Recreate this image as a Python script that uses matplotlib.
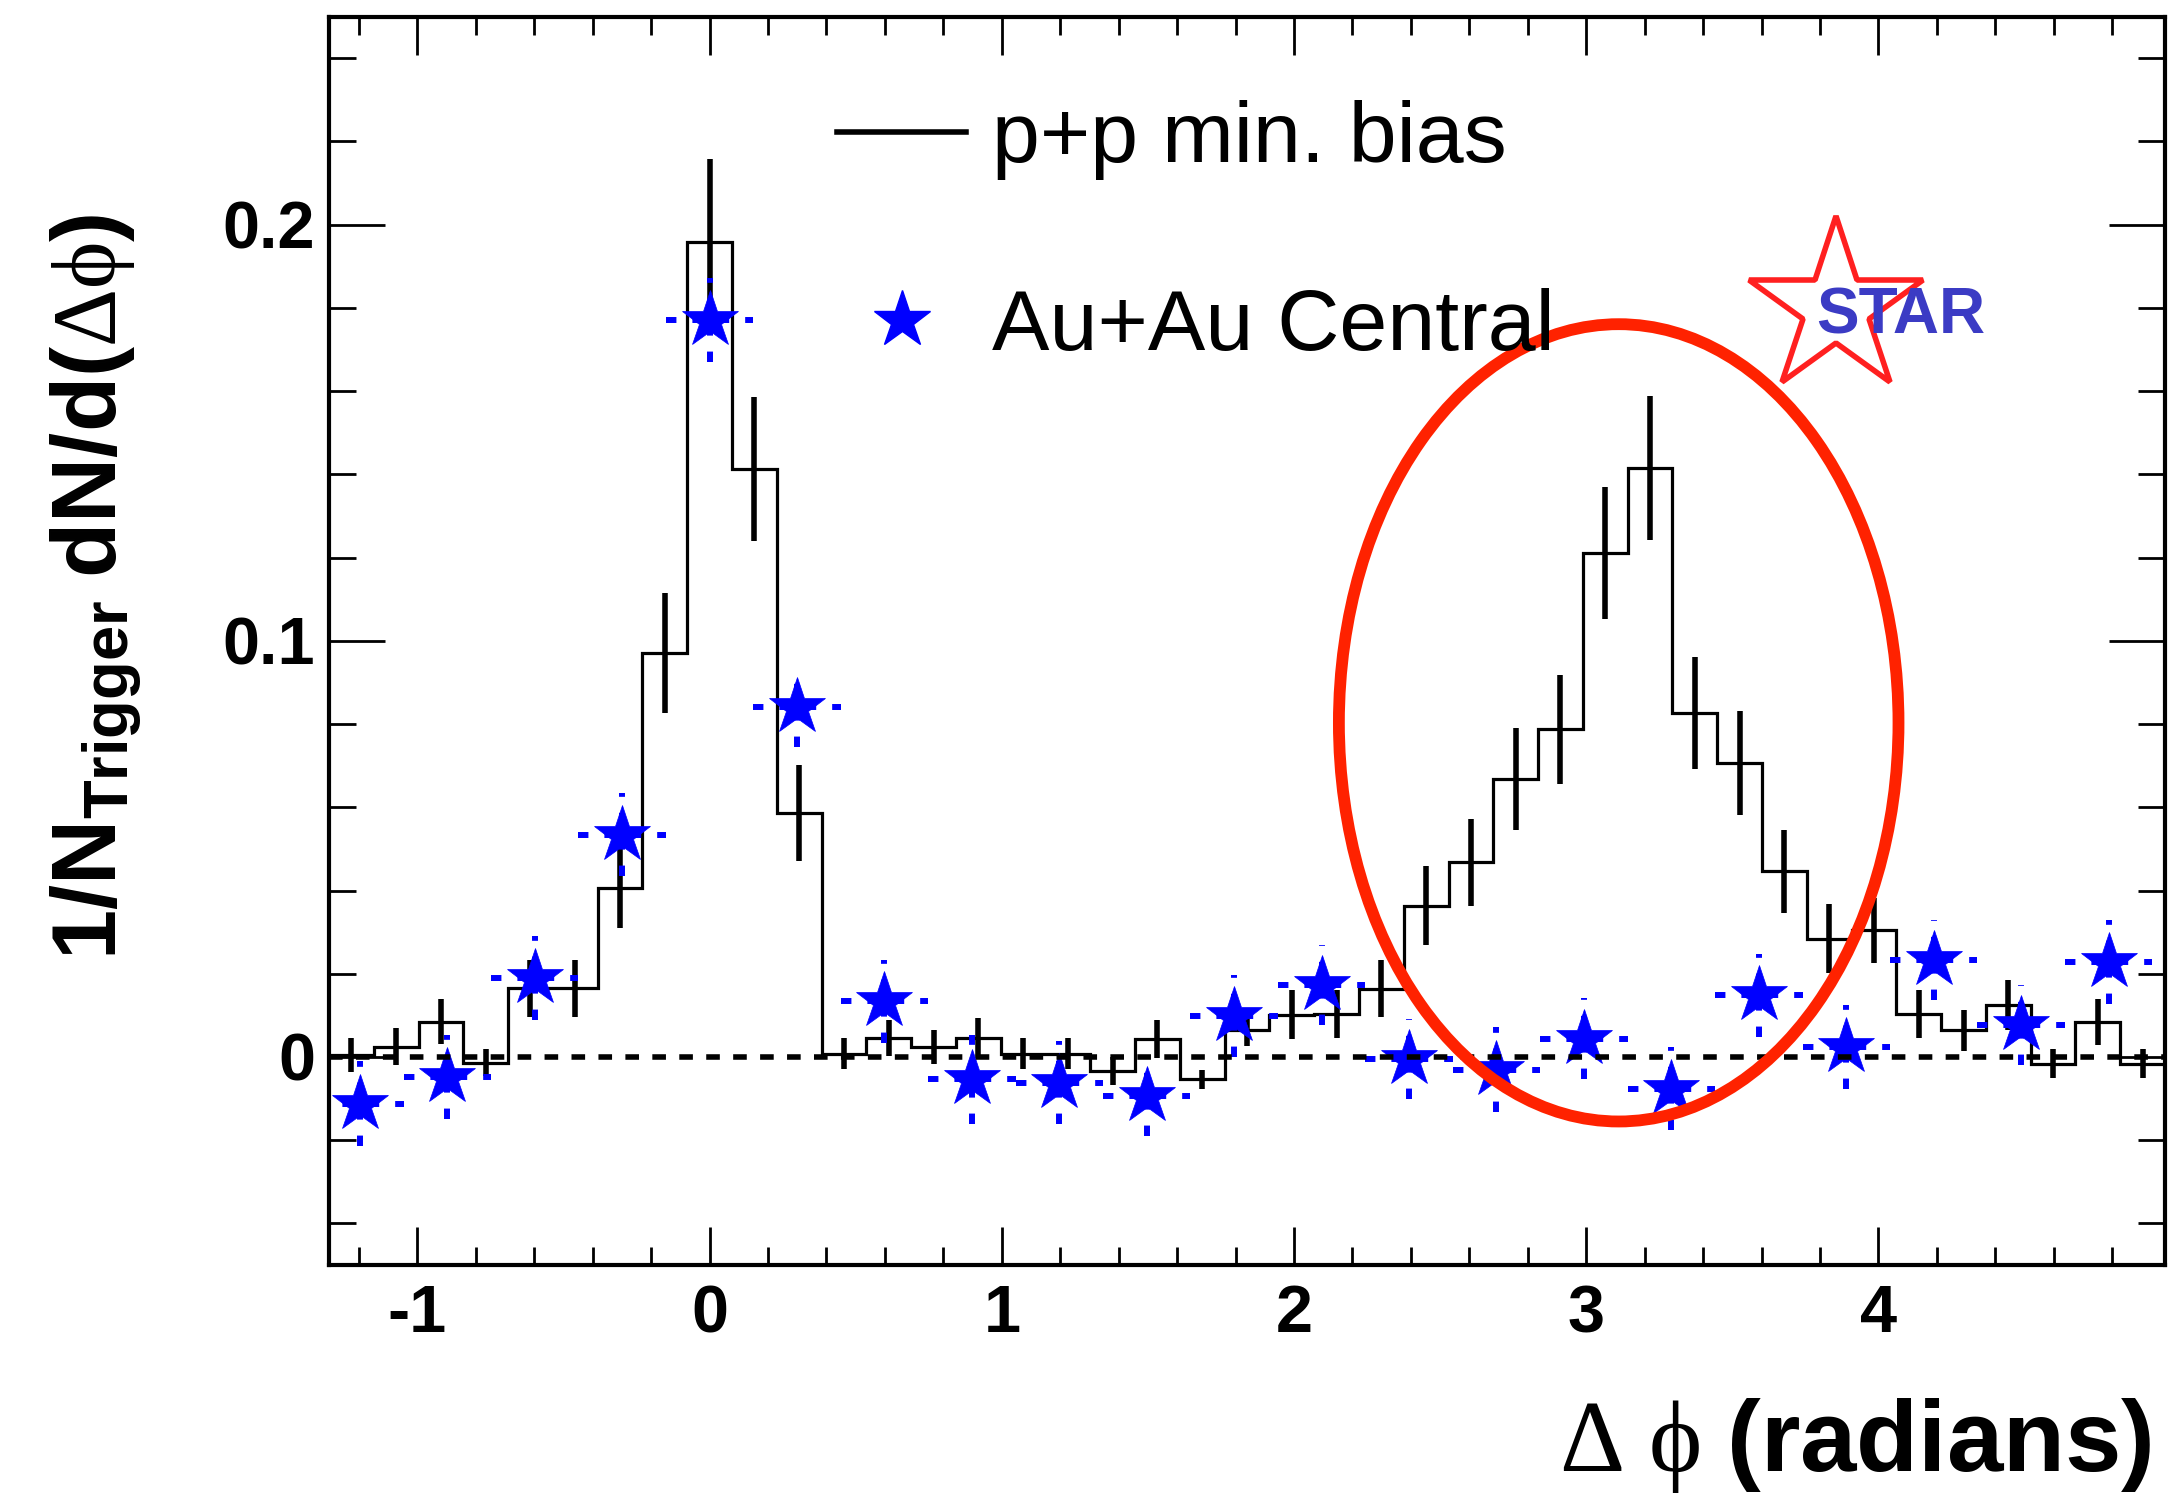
import numpy as np
import matplotlib
matplotlib.use('Agg')
import matplotlib.pyplot as plt
from matplotlib.patches import Ellipse
from matplotlib.lines import Line2D
from matplotlib.ticker import MultipleLocator

plt.rcParams['font.family'] = ['Liberation Sans', 'DejaVu Sans']
plt.rcParams['mathtext.fontset'] = 'custom'
plt.rcParams['mathtext.rm'] = 'Liberation Serif'
plt.rcParams['mathtext.it'] = 'Liberation Serif:italic'
plt.rcParams['mathtext.bf'] = 'Liberation Sans:bold'
plt.rcParams['axes.unicode_minus'] = False
plt.rcParams['lines.scale_dashes'] = False

# p+p min. bias histogram (41 bins over 2pi, first bin centred at -8 bins)
pp_bin = 2 * np.pi / 41
pp_first = -8
pp_vals = [0.0005, 0.0025, 0.0085, -0.0014, 0.0165, 0.0165, 0.0407, 0.0970,
           0.1958, 0.1413, 0.0587, 0.0008, 0.0046, 0.0024, 0.0046, 0.0008,
           0.0008, -0.0034, 0.0044, -0.0054, 0.0066, 0.0102, 0.0104, 0.0164,
           0.0364, 0.0468, 0.0668, 0.0787, 0.1211, 0.1415, 0.0826, 0.0707,
           0.0446, 0.0284, 0.0304, 0.0104, 0.0064, 0.0124, -0.0016, 0.0084,
           -0.0016]
pp_err = [0.0040, 0.0044, 0.0055, 0.0032, 0.0069, 0.0069, 0.0096, 0.0144,
          0.0199, 0.0174, 0.0115, 0.0038, 0.0044, 0.0040, 0.0048, 0.0038,
          0.0038, 0.0034, 0.0046, 0.0022, 0.0040, 0.0058, 0.0058, 0.0068,
          0.0094, 0.0104, 0.0122, 0.0130, 0.0159, 0.0173, 0.0135, 0.0125,
          0.0100, 0.0083, 0.0078, 0.0058, 0.0050, 0.0060, 0.0034, 0.0055,
          0.0034]

# Au+Au central points (21 bins over 2pi)
au_bin = 2 * np.pi / 21
au_first = -4
au_vals = [-0.0112, -0.0048, 0.0190, 0.0534, 0.1770, 0.0840, 0.0134, -0.0054,
           -0.0062, -0.0094, 0.0098, 0.0172, -0.0004, -0.0031, 0.0044, -0.0076,
           0.0148, 0.0024, 0.0234, 0.0076, 0.0228]
au_err = [0.0102, 0.0102, 0.0100, 0.0100, 0.0101, 0.0094, 0.0100, 0.0106,
          0.0100, 0.0096, 0.0098, 0.0096, 0.0096, 0.0102, 0.0098, 0.0100,
          0.0100, 0.0100, 0.0096, 0.0096, 0.0100]

x_ticks = [-1, 0, 1, 2, 3, 4]
y_ticks = [0, 0.1, 0.2]

pp_x = (pp_first + np.arange(len(pp_vals))) * pp_bin
pp_edges = (pp_first - 0.5 + np.arange(len(pp_vals) + 1)) * pp_bin
au_x = (au_first + np.arange(len(au_vals))) * au_bin

fig = plt.figure(figsize=(21.77, 15.01), dpi=100)
ax = fig.add_axes([0.1511, 0.1572, 0.8434, 0.8317])

# histogram and its errors
ax.stairs(pp_vals, pp_edges, baseline=None, color='k', lw=2.3, zorder=2)
ax.errorbar(pp_x, pp_vals, yerr=pp_err, fmt='none', ecolor='k',
            elinewidth=4, capsize=0, zorder=2)

# Au+Au stars with dashed error bars
eb = ax.errorbar(au_x, au_vals, xerr=au_bin / 2, yerr=au_err, fmt='*', ms=43,
                 color='blue', mec='blue', mew=0.5, ecolor='blue',
                 elinewidth=4.3, capsize=0, zorder=3)
for lc in eb[2]:
    lc.set_linestyle((0, (7.5, 11.5)))

ax.axhline(0, color='k', lw=4, ls=(0, (9.8, 9.6)), zorder=4)

# red ellipse around away side
ax.add_patch(Ellipse((3.111, 0.0803), 1.915, 0.1916, fill=False,
                     ec='#ff2200', lw=8.5, zorder=5))

# STAR logo
ax.plot([0.821], [0.767], marker='*', ms=132, mfc='none', mec='#ff2020',
        mew=4, transform=ax.transAxes, clip_on=False, zorder=6)
ax.text(0.856, 0.760, 'STAR', transform=ax.transAxes, color='#3b3bc4',
        fontsize=46, fontweight='bold', ha='center', va='center', zorder=7)

ax.set_xlim(-8.5 * pp_bin, 32.5 * pp_bin)
ax.set_ylim(-0.05, 0.25)
ax.set_xticks(x_ticks, [f'{t:g}' for t in x_ticks], fontsize=48, fontweight='bold')
ax.set_yticks(y_ticks, [f'{t:g}' for t in y_ticks], fontsize=48, fontweight='bold')
ax.xaxis.set_minor_locator(MultipleLocator(0.2))
ax.yaxis.set_minor_locator(MultipleLocator(0.02))
ax.tick_params(which='both', direction='in', top=True, right=True, width=2)
ax.tick_params(axis='x', which='major', length=27.5, pad=14)
ax.tick_params(axis='x', which='minor', length=13)
ax.tick_params(axis='y', which='major', length=40, pad=10)
ax.tick_params(axis='y', which='minor', length=19.5)
for s in ax.spines.values():
    s.set_linewidth(3)

handles = [Line2D([], [], color='k', lw=4),
           Line2D([], [], ls='none', marker='*', ms=43, color='blue')]
ax.legend(handles, ['p+p min. bias', 'Au+Au Central'], loc='upper left',
          bbox_to_anchor=(0.2767, 0.933), frameon=False,
          prop={'size': 62, 'weight': 'normal'}, handlelength=1.5,
          handletextpad=0.3, labelspacing=1.25, borderpad=0, borderaxespad=0)

fig.text(0.9885, 0.0373, r'$\mathrm{\Delta}\ \mathrm{\phi}\ \mathbf{(radians)}$',
         ha='right', va='center', fontsize=73)
fig.text(0.0441, 0.609,
         r'$\mathbf{1/N}_{\mathbf{Trigger}}\mathbf{\ dN/d(}\mathrm{\Delta\phi}\mathbf{)}$',
         rotation=90, ha='center', va='center', fontsize=65)

fig.savefig('out.png', dpi=100)
